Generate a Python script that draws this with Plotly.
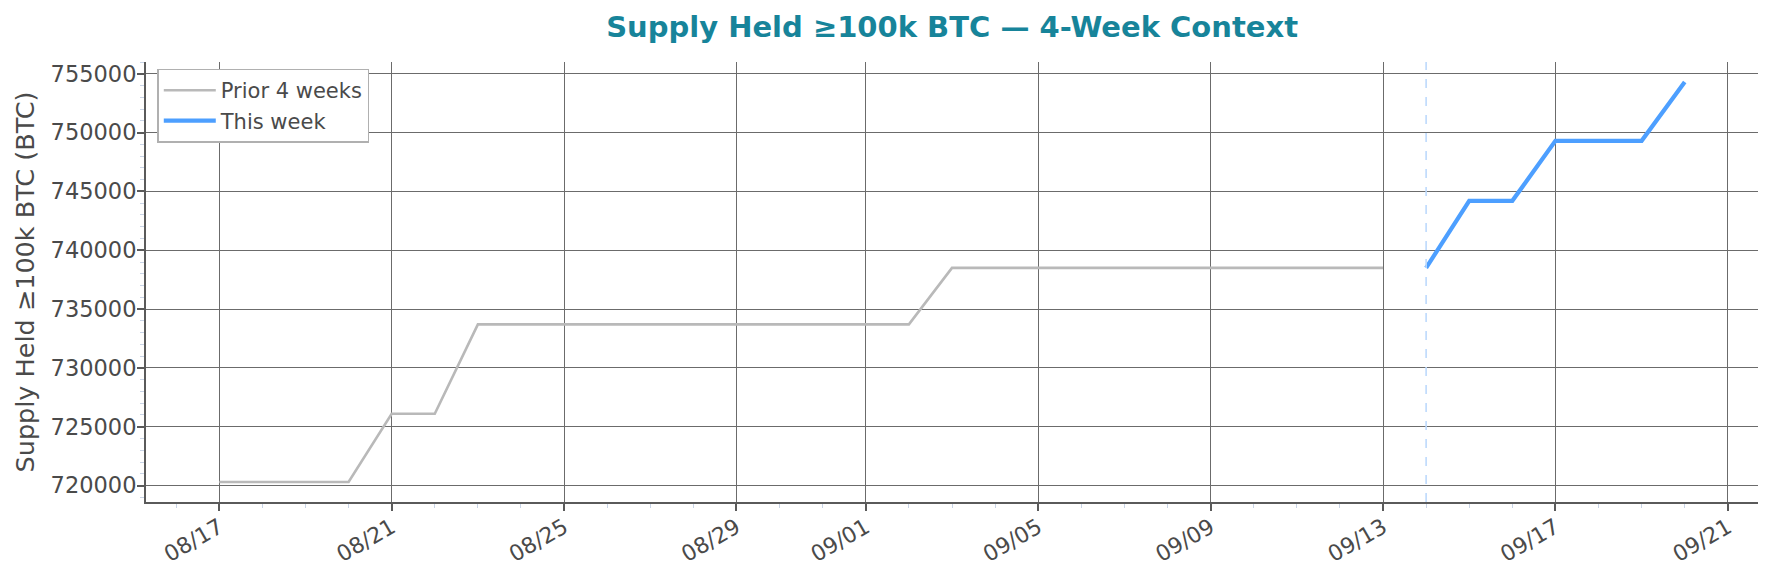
import pandas as pd
import plotly.graph_objects as go

# Daily supply held by >=100k BTC entities
prior_dates = pd.date_range("2025-08-17", "2025-09-13", freq="D")
prior_values = (
    [720300] * 4      # 08/17 - 08/20
    + [726100] * 2    # 08/21 - 08/22
    + [733700] * 11   # 08/23 - 09/02
    + [738500] * 11   # 09/03 - 09/13
)

week_dates = pd.date_range("2025-09-14", "2025-09-20", freq="D")
week_values = [738500, 744200, 744200, 749300, 749300, 749300, 754300]

tick_dates = ["2025-08-17", "2025-08-21", "2025-08-25", "2025-08-29", "2025-09-01",
              "2025-09-05", "2025-09-09", "2025-09-13", "2025-09-17", "2025-09-21"]
tick_labels = ["08/17", "08/21", "08/25", "08/29", "09/01",
               "09/05", "09/09", "09/13", "09/17", "09/21"]
y_ticks = list(range(720000, 755001, 5000))

TEXT = "#4a4a4a"
GRID = "#6b6b6b"

fig = go.Figure()
fig.add_trace(go.Scatter(
    x=prior_dates, y=prior_values, mode="lines", name="Prior 4 weeks",
    line=dict(color="#b9b9b9", width=2.6),
))
fig.add_trace(go.Scatter(
    x=week_dates, y=week_values, mode="lines", name="This week",
    line=dict(color="#4d9fff", width=4.2),
))

# marker for start of this week
fig.add_vline(x=week_dates[0], line=dict(color="#bdd9fc", width=1.6, dash="dash"))

# matplotlib-like 5% margins
all_dates = list(prior_dates) + list(week_dates)
all_vals = prior_values + week_values
pad_t = (max(all_dates) - min(all_dates)) * 0.05
pad_v = (max(all_vals) - min(all_vals)) * 0.05

fig.update_layout(
    width=1773, height=576,
    margin=dict(l=146, r=15, t=62, b=74),
    plot_bgcolor="white", paper_bgcolor="white",
    font=dict(family="DejaVu Sans", size=22, color=TEXT),
    title=dict(text="<b>Supply Held ≥100k BTC — 4-Week Context</b>",
               x=0.537, xanchor="center", y=0.953, yanchor="middle",
               font=dict(size=29, color="#17849a")),
    legend=dict(x=0.007, y=0.985, xanchor="left", yanchor="top",
                bgcolor="white", bordercolor="#b0b0b0", borderwidth=1.5,
                itemwidth=52,
                font=dict(size=21, color=TEXT), tracegroupgap=0),
    showlegend=True,
)

fig.update_xaxes(
    type="date", automargin=False,
    range=[min(all_dates) - pad_t, max(all_dates) + pad_t],
    tickvals=tick_dates, ticktext=tick_labels, tickangle=-30,
    tickfont=dict(size=22, color=TEXT), ticklabelstandoff=-5,
    showgrid=True, gridcolor=GRID, gridwidth=1,
    showline=True, linecolor="#5a5a5a", linewidth=2,
    ticks="outside", ticklen=7, tickwidth=2, tickcolor="#5a5a5a",
    minor=dict(dtick=86400000, ticks="outside", ticklen=4, tickcolor="#c9d4e6",
               tickwidth=1, showgrid=False),
    zeroline=False,
)
fig.update_yaxes(
    automargin=False,
    range=[min(all_vals) - pad_v, max(all_vals) + pad_v],
    tickvals=y_ticks, tickformat="d",
    tickfont=dict(size=22.5, color=TEXT), ticklabelstandoff=-4,
    title=dict(text="Supply Held ≥100k BTC (BTC)", font=dict(size=25.5, color=TEXT), standoff=9),
    showgrid=True, gridcolor=GRID, gridwidth=1,
    showline=True, linecolor="#5a5a5a", linewidth=2,
    ticks="outside", ticklen=7, tickwidth=2, tickcolor="#5a5a5a",
    minor=dict(dtick=1000, ticks="outside", ticklen=4, tickcolor="#c9d4e6",
               tickwidth=1, showgrid=False),
    zeroline=False,
)

# drop the default page margin so the figure sits at the window origin
fig.write_html("out.html", config={"displayModeBar": False},
               post_script="document.body.style.margin='0';")
